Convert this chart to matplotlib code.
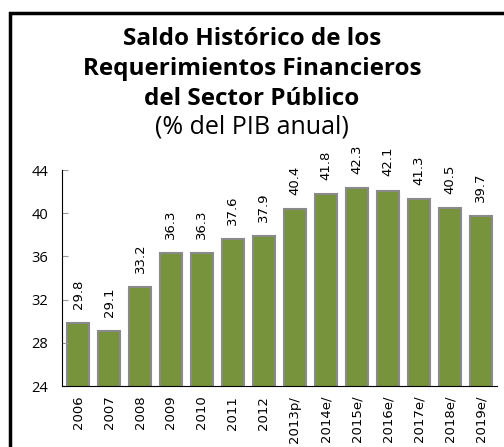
import matplotlib.pyplot as plt
from matplotlib.patches import Rectangle

years = ['2006', '2007', '2008', '2009', '2010', '2011', '2012', '2013p/',
         '2014e/', '2015e/', '2016e/', '2017e/', '2018e/', '2019e/']
saldo = [29.8, 29.1, 33.2, 36.3, 36.3, 37.6, 37.9, 40.4,
         41.8, 42.3, 42.1, 41.3, 40.5, 39.7]

fig = plt.figure(figsize=(5.04, 4.47), dpi=100)
fig.patches.append(Rectangle((10 / 504, -0.05), 1.1, 1 - 13 / 447 + 0.05,
                             transform=fig.transFigure, fill=False,
                             edgecolor='black', linewidth=2.5))

ax = fig.add_axes([62 / 504, 1 - 386 / 447, 435 / 504, 216 / 447])
x = list(range(len(years)))
ax.bar(x, saldo, width=0.71, color='#77933C', edgecolor='#8a8a8a', linewidth=1.5)
for xi, v in zip(x, saldo):
    ax.text(xi, v + 1.3, f'{v:.1f}', rotation=90, ha='center', va='bottom', fontsize=9.5)

ax.set_ylim(24, 44)
ax.set_yticks(range(24, 45, 4))
ax.set_xlim(-0.52, len(years) - 1 + 0.53)
ax.set_xticks(x)
ax.set_xticklabels(years, rotation=90, fontsize=9.5)
ax.tick_params(axis='y', labelsize=10.5, length=4, color='#999999', direction='in', pad=10)
ax.tick_params(axis='x', length=0, pad=7)
for s in ['top', 'right']:
    ax.spines[s].set_visible(False)
for lbl in ax.get_yticklabels():
    lbl.set_family('Open Sans')

title_font = dict(ha='center', va='baseline', fontsize=17.5, fontweight='bold', family='Open Sans')
fig.text(0.5, 1 - 45 / 447, 'Saldo Histórico de los', **title_font)
fig.text(0.5, 1 - 75 / 447, 'Requerimientos Financieros', **title_font)
fig.text(0.5, 1 - 105 / 447, 'del Sector Público', **title_font)
fig.text(0.5, 1 - 133 / 447, '(% del PIB anual)', ha='center', va='baseline',
         fontsize=18, family='Open Sans')

fig.savefig('out.png', dpi=100)
